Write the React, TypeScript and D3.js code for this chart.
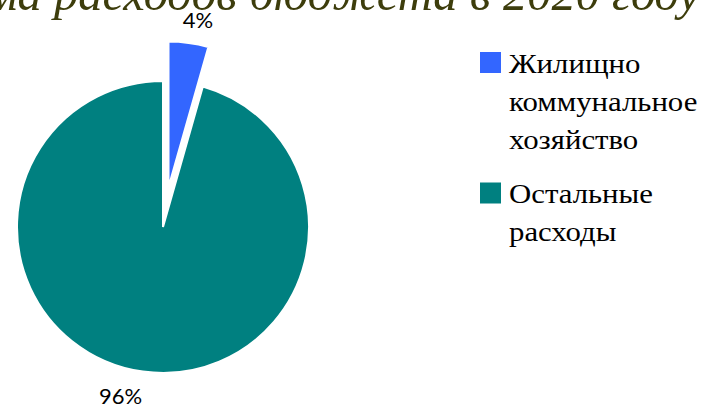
import React from "react";
import * as d3 from "d3";

const TITLE = "Диаграмма расходов бюджета в 2020 году";
const categories = ["Жилищно коммунальное хозяйство", "Остальные расходы"];
const legendLines = [["Жилищно", "коммунальное", "хозяйство"], ["Остальные", "расходы"]];
const values = [4.4, 95.6];
const labels = ["4%", "96%"];
const colors = ["#3366FF", "#008080"];

const W = 705;
const H = 411;

export default function App() {
  const cx = 163;
  const cy = 227;
  const r = 146;
  const explode = [40, 0];

  const pie = d3.pie<number>().sort(null).value((d) => d).startAngle(0).endAngle(2 * Math.PI);
  const arcs = pie(values);
  const arc = d3.arc<d3.PieArcDatum<number>>().innerRadius(0).outerRadius(r);

  const labelR = 170;
  const labelDx = [6, -19];

  let legendY = 52;
  const legendItems = legendLines.map((lines, i) => {
    const y0 = legendY;
    legendY += lines.length * 37.5 + 18;
    return { lines, y0, i };
  });

  return (
    <svg width={W} height={H} style={{ position: "absolute", left: 0, top: 0 }}>
      <rect width={W} height={H} fill="#ffffff" />
      <text
        x={700}
        y={10}
        textAnchor="end"
        fontFamily="'Liberation Serif', 'DejaVu Serif', serif"
        fontStyle="italic"
        fontSize={48.5}
        fill="#3d3d0c"
      >
        {TITLE}
      </text>
      {arcs.map((a, i) => {
        const mid = (a.startAngle + a.endAngle) / 2;
        const ox = Math.sin(mid) * explode[i];
        const oy = -Math.cos(mid) * explode[i];
        return (
          <path
            key={categories[i]}
            d={arc(a) || ""}
            transform={`translate(${cx + ox},${cy + oy})`}
            fill={colors[i]}
            stroke="#ffffff"
            strokeWidth={2}
            strokeLinejoin="miter"
          />
        );
      })}
      {arcs.map((a, i) => {
        const mid = (a.startAngle + a.endAngle) / 2;
        const rr = labelR + explode[i];
        const x = cx + Math.sin(mid) * rr + labelDx[i];
        const y = cy - Math.cos(mid) * rr;
        return (
          <text
            key={labels[i]}
            x={x}
            y={y}
            textAnchor="middle"
            dominantBaseline="central"
            fontFamily="Lato, 'Open Sans', sans-serif"
            fontSize={22}
            fill="#000000"
          >
            {labels[i]}
          </text>
        );
      })}
      {legendItems.map(({ lines, y0, i }) => (
        <g key={categories[i]}>
          <rect x={480} y={y0} width={21} height={21} fill={colors[i]} />
          <g transform="translate(509,0) scale(1.1,1)">
            {lines.map((ln, j) => (
              <text
                key={ln}
                x={0}
                y={y0 + 21 + j * 38}
                fontFamily="'Liberation Serif', 'Times New Roman', serif"
                fontSize={28}
                fill="#000000"
              >
                {ln}
              </text>
            ))}
          </g>
        </g>
      ))}
    </svg>
  );
}
